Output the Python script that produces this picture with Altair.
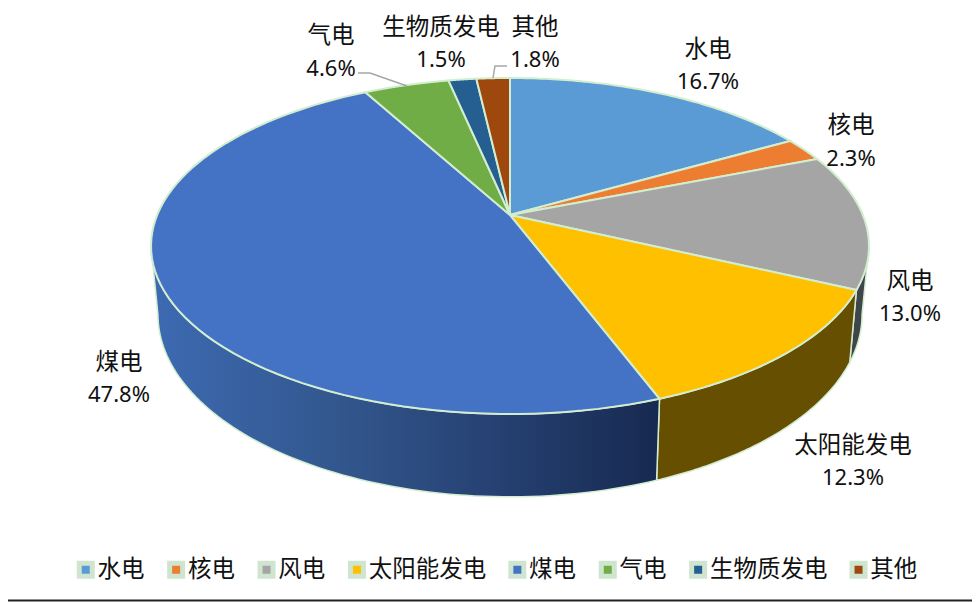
import numpy as np
import altair as alt

names = ["水电", "核电", "风电", "太阳能发电", "煤电", "气电", "生物质发电", "其他"]
shares = [16.7, 2.3, 13.0, 12.3, 47.8, 4.6, 1.5, 1.8]
pct_labels = ["16.7%", "2.3%", "13.0%", "12.3%", "47.8%", "4.6%", "1.5%", "1.8%"]
top_colors = ["#5B9BD5", "#ED7D31", "#A5A5A5", "#FFC000", "#4472C4", "#70AD47", "#255E91", "#9E480E"]

# layout (page pixels minus the 8px margin)
W, H = 964, 594
OFF = 8
APEX_X, APEX_Y = 510, 215
R_TOP, S_TOP, K = 352.8, 162.3, 0.1845
R_BOT, S_BOT, Y_BOT = 346.0, 176.0, 281.0
EDGE = "#D2EDCF"
TXT = "#111111"
label_x = [708, 851, 910, 853, 119, 331, 441, 535]
name_y = [49.5, 125.5, 281.5, 445.5, 362.5, 35.5, 27.5, 27.5]
pct_y = [81.5, 158.5, 313.5, 477.5, 394.5, 68.5, 59.5, 59.5]
leader_a = [[358, 73], [370, 73], [407, 86]]
leader_b = [[507, 66], [495, 66], [493, 78]]
FONT = "Noto Sans, Noto Sans CJK SC"


def top_pt(t):
    u, v = np.sin(t), np.cos(t)
    d = 1 + K * v
    return [float(APEX_X + R_TOP * u / d - OFF), float(APEX_Y - S_TOP * v / d - OFF)]


def bot_pt(t):
    u, v = np.sin(t), np.cos(t)
    d = 1 + K * v
    return [float(APEX_X + R_BOT * u / d - OFF), float(Y_BOT - S_BOT * v / d - OFF)]


def feature(ring, name, kind="Polygon"):
    coords = [ring] if kind == "Polygon" else ring
    return {"type": "Feature", "properties": {"name": name},
            "geometry": {"type": kind, "coordinates": coords}}


cum = np.concatenate([[0], np.cumsum(shares)]) / sum(shares) * 2 * np.pi
slices = []
for i, n in enumerate(names):
    ts = np.linspace(cum[i], cum[i + 1], 80)
    apex = [APEX_X - OFF, APEX_Y - OFF]
    ring = [apex] + [top_pt(t) for t in ts] + [apex]
    slices.append(feature(ring, n))


def wall(t0, t1, name):
    ts = np.linspace(t0, t1, 80)
    ring = [top_pt(t) for t in ts] + [bot_pt(t) for t in ts[::-1]]
    ring.append(ring[0])
    return feature(ring, name)


TAN_R = np.pi - np.arcsin(np.sqrt(1 - K**2))
TAN_L = 2 * np.pi - TAN_R


def shp(features, **kw):
    return alt.Chart(alt.Data(values=features)).mark_geoshape(**kw).project(type="identity")


frame = shp([feature([[0, 0], [W, 0], [W, H], [0, H], [0, 0]], "frame")],
            fill="white", strokeWidth=0, fillOpacity=0)
bottom_line = shp([feature([[0, 592.6], [W, 592.6]], "b", "LineString")],
                  filled=False, stroke="#222222", strokeWidth=2)

coal_grad = alt.Gradient(gradient="linear", x1=0, x2=1, y1=0, y2=0, stops=[
    alt.GradientStop(offset=0, color="#3D6AB3"),
    alt.GradientStop(offset=0.35, color="#33588F"),
    alt.GradientStop(offset=0.7, color="#253F70"),
    alt.GradientStop(offset=1, color="#172A50"),
])
wall_wind = shp([wall(TAN_R, cum[3], "风电")], color="#3F4549", stroke=EDGE, strokeWidth=1.5)
wall_solar = shp([wall(cum[3], cum[4], "太阳能发电")], color="#664F00", stroke=EDGE, strokeWidth=1.5)
wall_coal = shp([wall(cum[4], TAN_L, "煤电")], color=coal_grad, stroke=EDGE, strokeWidth=1.5)

top = shp(slices, stroke=EDGE, strokeWidth=2).encode(
    color=alt.Color("properties.name:N",
                    scale=alt.Scale(domain=names, range=top_colors),
                    legend=alt.Legend(
                        title=None, orient="none", legendX=66, legendY=550,
                        columns=8, gridAlign="none", columnPadding=14.4,
                        symbolType="square", symbolSize=169,
                        symbolStrokeColor="#CFE5D0", symbolStrokeWidth=5,
                        labelFont=FONT, labelFontSize=23.5, labelColor=TXT,
                        labelOffset=0, labelLimit=200,
                    ))
)

leaders = shp([feature([[x - OFF, y - OFF] for x, y in leader_a], "a", "LineString"),
               feature([[x - OFF, y - OFF] for x, y in leader_b], "b", "LineString")],
              filled=False, stroke="#A6A6A6", strokeWidth=1.5)

rows = [{"name": n, "pct": p, "lon": x - OFF, "ny": ny - OFF, "py": py - OFF}
        for n, p, x, ny, py in zip(names, pct_labels, label_x, name_y, pct_y)]
base = alt.Chart(alt.Data(values=rows))
name_text = base.mark_text(font=FONT, fontSize=23.5, color=TXT, baseline="middle").encode(
    longitude="lon:Q", latitude="ny:Q", text="name:N")
pct_text = base.mark_text(font=FONT, fontSize=22, color=TXT, baseline="middle").encode(
    longitude="lon:Q", latitude="py:Q", text="pct:N")

chart = alt.layer(frame, bottom_line, wall_wind, wall_solar, wall_coal, top, leaders, name_text, pct_text).properties(
    width=W, height=H, padding=0, autosize=alt.AutoSizeParams(type="none"), background="white"
).configure_view(stroke=None)

chart.save("out.html", embed_options={"renderer": "svg", "actions": False})
